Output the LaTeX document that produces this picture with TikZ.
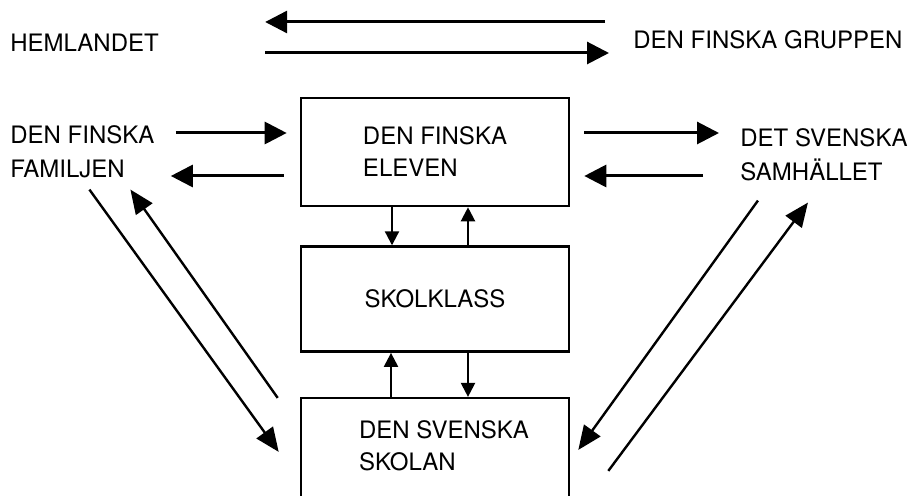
\documentclass[tikz,border=0pt]{standalone}
\usepackage{fontspec}
\setmainfont{TeX Gyre Heros}
\usetikzlibrary{positioning,calc,arrows.meta}

\begin{document}
\begin{tikzpicture}[x=0.5pt, y=-0.5pt,
    every node/.style={font=\fontsize{12}{17}\selectfont},
    txt/.style={inner sep=0pt, align=left, anchor=west},
    box/.style={draw, line width=1.3pt, minimum width=134pt, align=left,
      font=\fontsize{12}{16}\selectfont},
    arr/.style={line width=1.5pt, -{Triangle[length=11pt,width=11pt]}},
    diag/.style={line width=1.2pt, -{Triangle[length=12pt,width=10pt]}},
    small/.style={line width=1.1pt, -{Triangle[length=7pt,width=7pt]}}]
  \useasboundingbox (0,0) rectangle (910,496);

  \node[txt] (hem) at (10,43) {HEMLANDET};
  \node[txt] (grupp) at (633,40) {DEN FINSKA GRUPPEN};
  \node[box, minimum height=54pt] (elev) at (435,152) {DEN FINSKA\\ELEVEN};
  \node[txt] (fam) at (10,152) {DEN FINSKA\\FAMILJEN};
  \node[txt] (sam) at (740,155) {DET SVENSKA\\SAMHÄLLET};
  \node[box, minimum height=52.5pt, below=19pt of elev] (klass) {SKOLKLASS};
  \node[box, minimum height=65pt, below=22pt of klass] (skola) {};
  \node[txt, anchor=center, font=\fontsize{12}{16}\selectfont] (skolnamn)
    at ($(skola.north)+(9,49)$) {DEN SVENSKA\\SKOLAN};

  \draw[arr] ($(grupp.west)+(-28,-18)$) -- ($(hem.east)+(106,-21)$);
  \draw[arr] ($(hem.east)+(106,10)$) -- ($(grupp.west)+(-24,13)$);

  \draw[arr] ($(fam.east)+(21,-19)$) -- ($(elev.west)+(-13,-19)$);
  \draw[arr] ($(elev.west)+(-16,24)$) -- ($(fam.east)+(16,24)$);
  \draw[arr] ($(elev.east)+(14,-19)$) -- ($(sam.west)+(-21,-22)$);
  \draw[arr] ($(sam.west)+(-37,21)$) -- ($(elev.east)+(14,24)$);

  \draw[diag] ($(fam.south)+(7,11)$) -- ($(skola.north west)+(-21,55)$);
  \draw[diag] ($(skola.north west)+(-22,1)$) -- ($(fam.south)+(48,11)$);
  \draw[diag] ($(sam.south)+(-66,19)$) -- ($(skola.north east)+(8,53)$);
  \draw[diag] ($(skola.north east)+(38,74)$) -- ($(sam.south)+(-16,21)$);

  \draw[small] ($(elev.south)+(-43,0)$) -- ($(klass.north)+(-43,0)$);
  \draw[small] ($(klass.north)+(33,0)$) -- ($(elev.south)+(33,0)$);
  \draw[small] ($(skola.north)+(-44,0)$) -- ($(klass.south)+(-44,0)$);
  \draw[small] ($(klass.south)+(33,0)$) -- ($(skola.north)+(33,0)$);
\end{tikzpicture}
\end{document}
